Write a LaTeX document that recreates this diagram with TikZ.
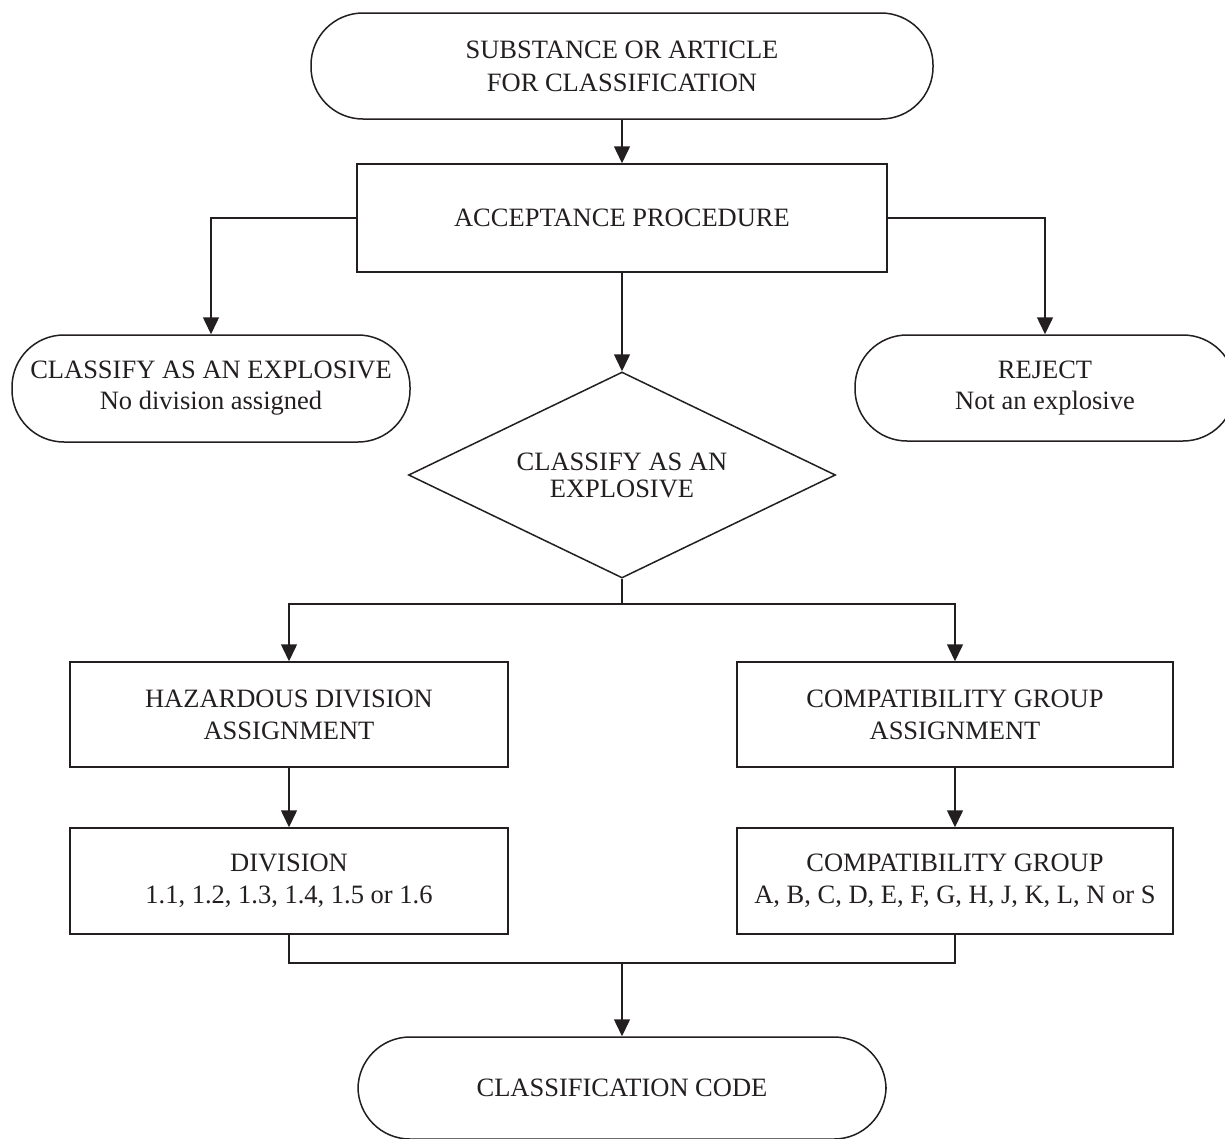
\documentclass[tikz,border=0pt]{standalone}
\usepackage{fontspec}
\setmainfont{Liberation Serif}
\usetikzlibrary{shapes.geometric,arrows.meta}
\definecolor{ink}{HTML}{231F20}
\begin{document}
\begin{tikzpicture}[x=1pt,y=-1pt,
  every node/.style={font=\fontsize{26.5}{32}\selectfont, text=ink, align=center, inner sep=0pt},
  box/.style={draw=ink, line width=1.5pt, rectangle},
  term/.style={draw=ink, line width=1.5pt, rectangle, rounded corners=52pt},
  dec/.style={draw=ink, line width=1.5pt, diamond, aspect=2.07, minimum width=427pt, minimum height=206pt, font=\fontsize{26.5}{27}\selectfont},
  conn/.style={draw=ink, line width=1.5pt},
  arr/.style={conn, -{Triangle[width=16pt,length=17pt]}},
]
\useasboundingbox (0,0) rectangle (1225,1138);
\fill[white] (0,0) rectangle (1225,1138);

\node[term, minimum width=622pt, minimum height=106pt, font=\fontsize{26.5}{33}\selectfont] (start) at (622,66) {SUBSTANCE OR ARTICLE\\FOR CLASSIFICATION};
\node[box, minimum width=530pt, minimum height=108pt] (acc) at (622,218) {ACCEPTANCE PROCEDURE};
\node[term, minimum width=398pt, minimum height=107pt, font=\fontsize{26.5}{31}\selectfont] (nodiv) at (211,388.5) {CLASSIFY AS AN EXPLOSIVE\\No division assigned};
\node[term, minimum width=380pt, minimum height=106pt, font=\fontsize{26.5}{31}\selectfont] (reject) at (1045,388) {REJECT\\Not an explosive};
\node[dec] (dec) at (622,475) {CLASSIFY AS AN\\EXPLOSIVE};
\node[box, minimum width=438pt, minimum height=105pt] (haz) at (289,714.5) {HAZARDOUS DIVISION\\ASSIGNMENT};
\node[box, minimum width=436pt, minimum height=105pt] (cga) at (955,714.5) {COMPATIBILITY GROUP\\ASSIGNMENT};
\node[box, minimum width=438pt, minimum height=106pt] (div) at (289,881) {DIVISION\\1.1, 1.2, 1.3, 1.4, 1.5 or 1.6};
\node[box, minimum width=436pt, minimum height=106pt] (cg) at (955,881) {COMPATIBILITY GROUP\\A, B, C, D, E, F, G, H, J, K, L, N or S};
\node[term, minimum width=528pt, minimum height=102pt] (code) at (622,1088) {CLASSIFICATION CODE};

\coordinate (j1) at (622,604);
\coordinate (j2) at (622,963);

\draw[arr] (start) -- (acc);
\draw[arr] (acc.west) -| (nodiv.north);
\draw[arr] (acc.east) -| (reject.north);
\draw[arr] (acc) -- (dec);
\draw[conn] (dec.south) -- (j1);
\draw[arr] (j1) -| (haz.north);
\draw[arr] (j1) -| (cga.north);
\draw[arr] (haz) -- (div);
\draw[arr] (cga) -- (cg);
\draw[conn] (div.south) |- (j2);
\draw[conn] (cg.south) |- (j2);
\draw[arr] (j2) -- (code);
\end{tikzpicture}
\end{document}
